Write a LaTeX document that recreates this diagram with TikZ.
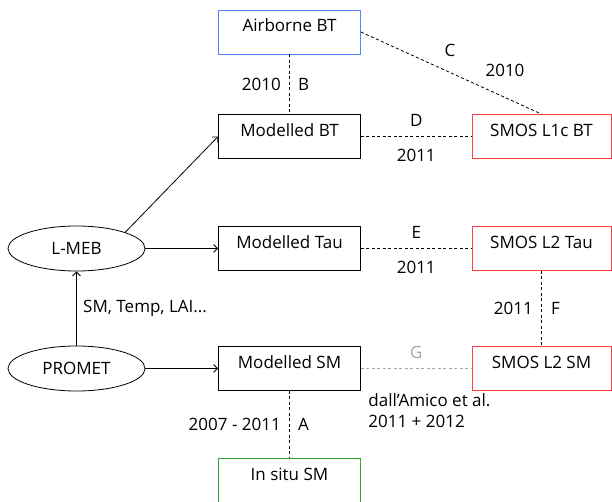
\documentclass[tikz,border=0pt]{standalone}
\usepackage{fontspec}
\setmainfont{Open Sans}
\usepackage{tikz}
\usetikzlibrary{shapes,arrows,arrows.meta,positioning,calc}
\definecolor{airblue}{RGB}{84,132,255}
\definecolor{smosred}{RGB}{255,64,64}
\definecolor{situgreen}{RGB}{44,168,44}
\definecolor{linkgray}{RGB}{165,165,165}

\begin{document}
\begin{tikzpicture}[x=1pt,y=-1pt,>={Straight Barb[length=4pt,width=8pt]},line width=0.8pt,every node/.style={font=\fontsize{17}{21}\selectfont},
  box/.style={draw,inner sep=0pt,minimum width=142pt,text height=22pt,text depth=22pt},
  sat/.style={box,draw=smosred,minimum width=139pt},
  model/.style={draw,ellipse,inner sep=0pt,minimum width=137pt,minimum height=45pt},
  link/.style={dash pattern=on 3pt off 2.5pt}]
\useasboundingbox (0,0) rectangle (612,502);
\clip (0,0) rectangle (612,502);
% models
\node[model](lmeb) at (76.5,248.5){L-MEB};
\node[model](promet) at (76.5,368.5){PROMET};
% modelled quantities
\node[box,draw=airblue](air) at (289.5,32){Airborne BT};
\node[box](mbt) at (289.5,136.5){Modelled BT};
\node[box](mtau) at (289.5,248.5){Modelled Tau};
\node[box](msm) at (289.5,368.5){Modelled SM};
\node[box,draw=situgreen](insitu) at (289.5,480.5){In situ SM};
% SMOS products
\node[sat](l1c) at (541.5,136.5){SMOS L1c BT};
\node[sat](l2tau) at (541.5,248.5){SMOS L2 Tau};
\node[sat](l2sm) at (541.5,368.5){SMOS L2 SM};
% arrows
\draw[->](promet)--(lmeb) node[midway,right=3pt](inputs){SM, Temp, LAI...};
\draw[->](lmeb.north east)--(mbt.west);
\draw[->](lmeb)--(mtau);
\draw[->](promet)--(msm);
% comparisons
\draw[link](air)--(mbt) node[midway,left=5pt](yb){2010} node[midway,right=5pt](lb){B};
\draw[link](air.east)--(l1c.north);
\node(lc) at (450,50){C}; \node(yc) at (505,70){2010};
\draw[link](mbt)--(l1c) node[midway,above=6pt](ld){D} node[midway,below=9pt](yd){2011};
\draw[link](mtau)--(l2tau) node[midway,above=6pt](le){E} node[midway,below=9pt](ye){2011};
\draw[link](l2tau)--(l2sm) node[midway,left=5pt](yf){2011} node[midway,right=6pt](lf){F};
\draw[link,linkgray](msm)--(l2sm) node[midway,above=6pt,text=linkgray](lg){G};
\node[anchor=north west,align=left,inner sep=0pt](ref) at (368,393){dall’Amico et al.\\2011 + 2012};
\draw[link](msm)--(insitu) node[midway,left=5pt](ya){2007 - 2011} node[midway,right=5pt](la){A};
\end{tikzpicture}
\end{document}
